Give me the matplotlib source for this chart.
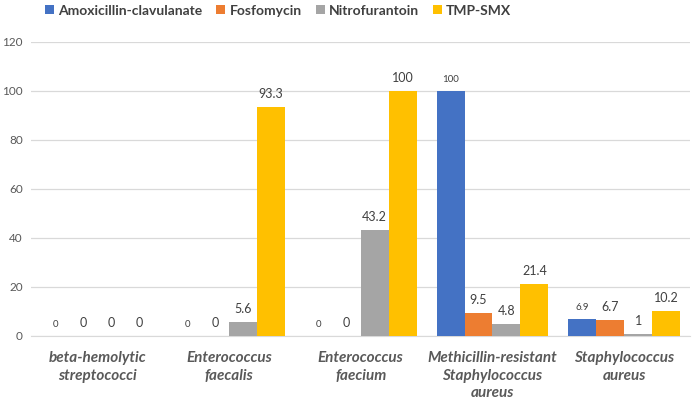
import matplotlib
matplotlib.use("Agg")
import matplotlib.pyplot as plt
import numpy as np

categories = ["beta-hemolytic\nstreptococci", "Enterococcus\nfaecalis", "Enterococcus\nfaecium",
              "Methicillin-resistant\nStaphylococcus\naureus", "Staphylococcus\naureus"]
series_names = ["Amoxicillin-clavulanate", "Fosfomycin", "Nitrofurantoin", "TMP-SMX"]
amoxicillin = [0, 0, 0, 100, 6.9]
fosfomycin = [0, 0, 0, 9.5, 6.7]
nitrofurantoin = [0, 5.6, 43.2, 4.8, 1]
tmp_smx = [0, 93.3, 100, 21.4, 10.2]
labels_fmt = [["0", "0", "0", "100", "6.9"],
              ["0", "0", "0", "9.5", "6.7"],
              ["0", "5.6", "43.2", "4.8", "1"],
              ["0", "93.3", "100", "21.4", "10.2"]]

colors = ["#4472C4", "#ED7D31", "#A5A5A5", "#FFC000"]
plt.rcParams['font.family'] = ['Lato', 'DejaVu Sans']

fig = plt.figure(figsize=(6.95, 3.99), dpi=100)
ax = fig.add_axes([0.045, 0.158, 0.948, 0.737])

x = np.arange(len(categories))
width = 0.212
data = [amoxicillin, fosfomycin, nitrofurantoin, tmp_smx]
for i, (vals, name) in enumerate(zip(data, series_names)):
    pos = x + (i - 1.5) * width
    ax.bar(pos, vals, width, color=colors[i], label=name, zorder=3)
    size = 7 if i == 0 else 9
    for p, v, t in zip(pos, vals, labels_fmt[i]):
        ax.annotate(t, (p, v), xytext=(0, 5), textcoords="offset points",
                    ha="center", va="bottom", fontsize=size, color="#404040")

ax.set_ylim(0, 120)
ax.set_yticks(range(0, 121, 20))
ax.set_xlim(-0.5, len(categories) - 0.5)
ax.grid(axis="y", color="#D9D9D9", linewidth=0.9, zorder=0)
for s in ["top", "right", "left"]:
    ax.spines[s].set_visible(False)
ax.spines["bottom"].set_color("#D9D9D9")
ax.tick_params(axis="both", length=0)
ax.tick_params(axis="y", labelsize=8.5, labelcolor="#595959", pad=6)
ax.set_xticks(x)
ax.set_xticklabels(categories, fontsize=11, fontweight="bold", fontstyle="italic",
                   color="#595959", linespacing=1.3)
ax.tick_params(axis="x", pad=11)

leg = fig.legend(loc="upper center", bbox_to_anchor=(0.4, 1.02), ncol=4, frameon=False,
                 handlelength=0.65, handleheight=0.65, handletextpad=0.3, columnspacing=1.0,
                 prop={"size": 10, "weight": "bold"})
for t in leg.get_texts():
    t.set_color("#404040")

fig.savefig("out.png", dpi=100)
